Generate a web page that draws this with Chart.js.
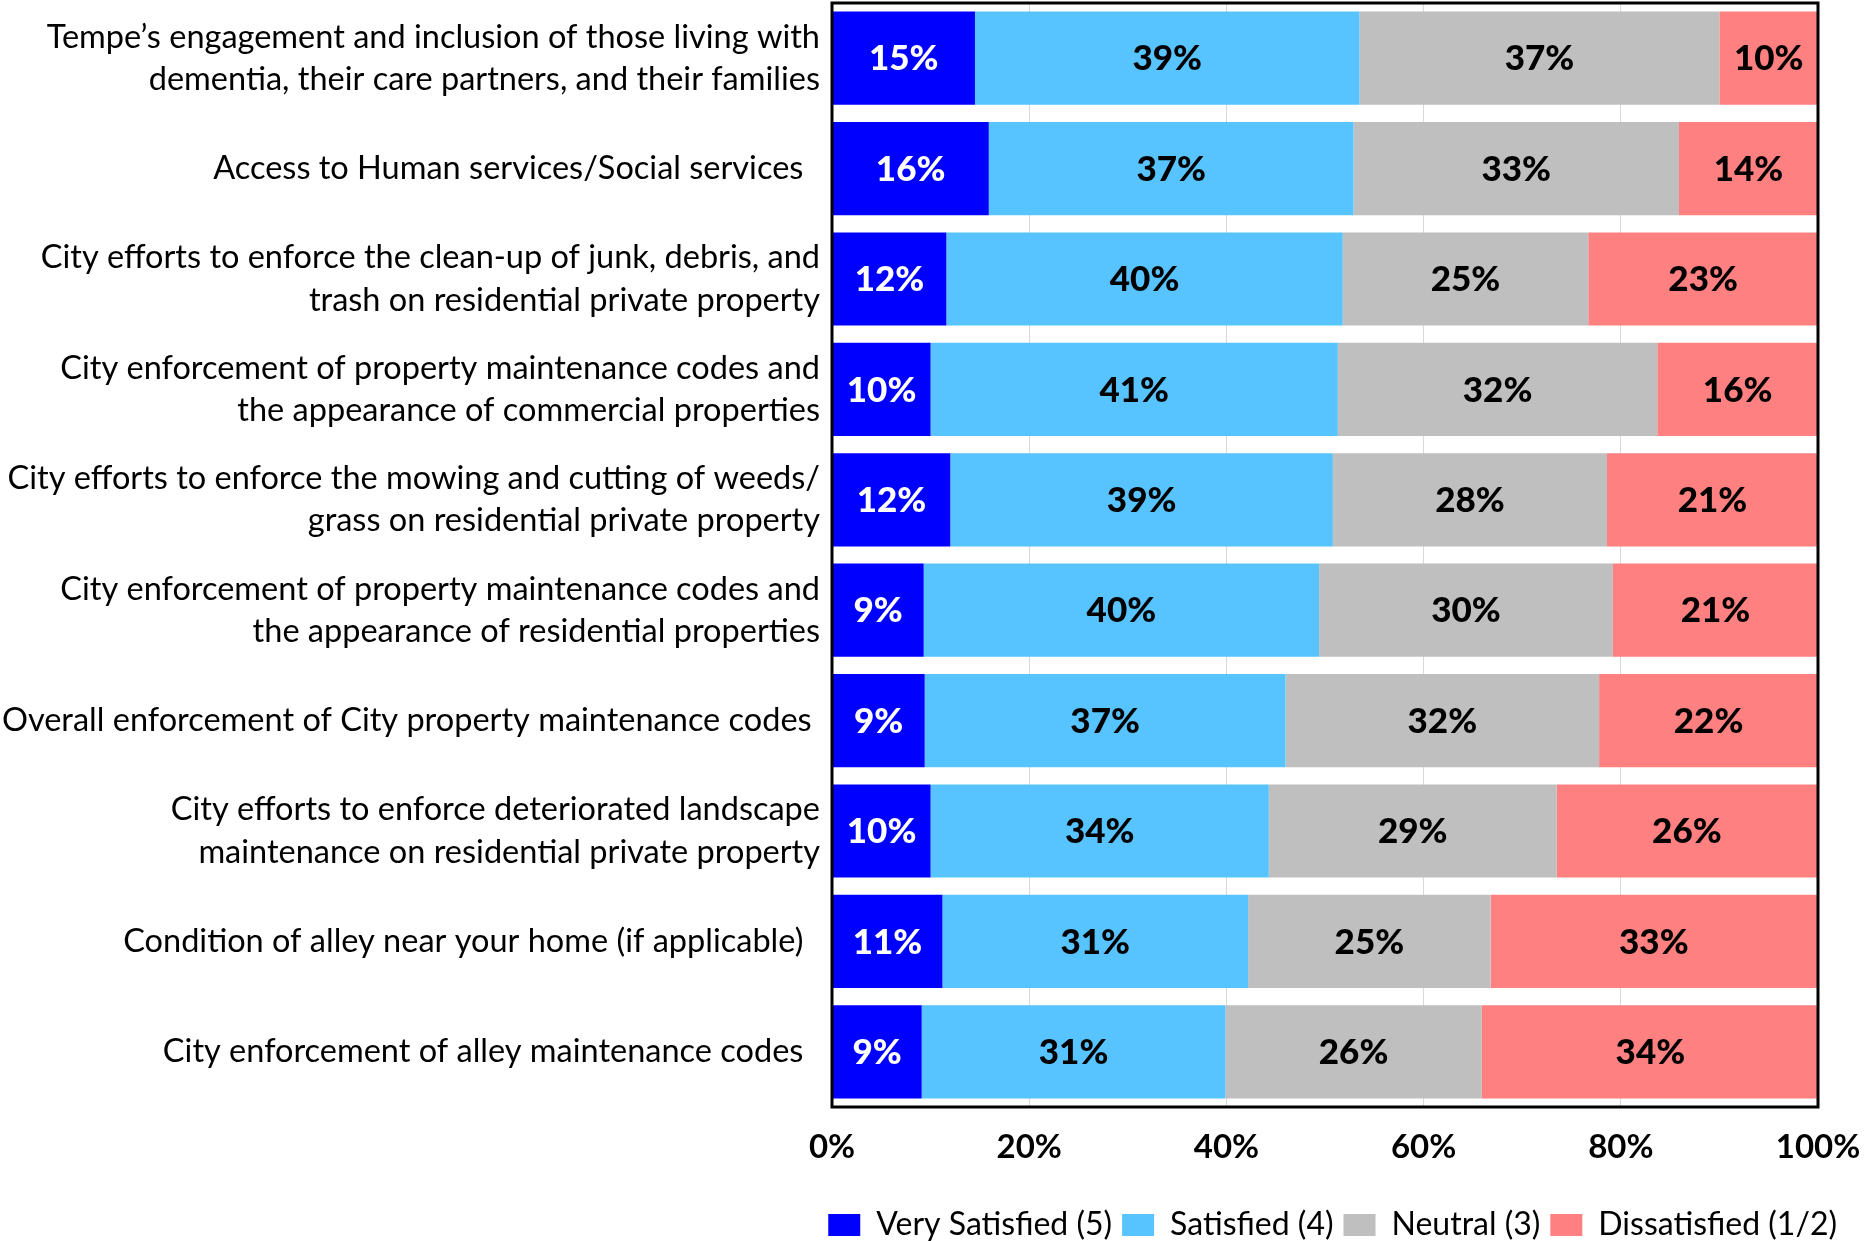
<!DOCTYPE html>
<html>
<head>
<meta charset="utf-8">
<script src="https://cdn.jsdelivr.net/npm/chart.js@4.4.0/dist/chart.umd.min.js"></script>
<style>
  html, body { margin: 0; padding: 0; background: #fff; }
  #wrap { width: 1867px; height: 1241px; }
</style>
</head>
<body>
<div id="wrap"><canvas id="chart"></canvas></div>
<script>
const FONT = "Lato, 'Liberation Sans', sans-serif";

const categories = [
    ['Tempe\u2019s engagement and inclusion of those living with', 'dementia, their care partners, and their families'],
    'Access to Human services/Social services  ',
    ['City efforts to enforce the clean-up of junk, debris, and', 'trash on residential private property'],
    ['City enforcement of property maintenance codes and', 'the appearance of commercial properties'],
    ['City efforts to enforce the mowing and cutting of weeds/', 'grass on residential private property'],
    ['City enforcement of property maintenance codes and', 'the appearance of residential properties'],
    'Overall enforcement of City property maintenance codes ',
    ['City efforts to enforce deteriorated landscape', 'maintenance on residential private property'],
    'Condition of alley near your home (if applicable)  ',
    'City enforcement of alley maintenance codes  '
];

const verySatisfied = [14.5, 15.9, 11.6, 10.0, 12.0, 9.3, 9.4, 10.0, 11.2, 9.1];
const satisfied     = [39.0, 37.0, 40.2, 41.3, 38.8, 40.1, 36.6, 34.3, 31.0, 30.8];
const neutral       = [36.5, 33.0, 24.9, 32.4, 27.8, 29.8, 31.8, 29.2, 24.6, 26.0];
const dissatisfied  = [10.0, 14.1, 23.3, 16.3, 21.4, 20.8, 22.2, 26.4, 33.1, 34.2];

const xTicks = [0, 20, 40, 60, 80, 100];

// draws the percent labels inside each bar segment
const barLabels = {
    id: 'barLabels',
    afterDatasetsDraw(chart) {
        const ctx = chart.ctx;
        ctx.save();
        ctx.font = '900 35px ' + FONT;
        ctx.textAlign = 'center';
        ctx.textBaseline = 'middle';
        chart.data.datasets.forEach((ds, i) => {
            const meta = chart.getDatasetMeta(i);
            meta.data.forEach((bar, j) => {
                ctx.fillStyle = i === 0 ? '#ffffff' : '#000000';
                ctx.fillText(Math.round(ds.data[j]) + '%', (bar.x + bar.base) / 2, bar.y + 1);
            });
        });
        ctx.restore();
    }
};

// black frame round the plot area
const plotFrame = {
    id: 'plotFrame',
    afterDatasetsDraw(chart) {
        const a = chart.chartArea;
        const ctx = chart.ctx;
        ctx.save();
        ctx.strokeStyle = '#000';
        ctx.lineWidth = 3;
        ctx.strokeRect(a.left, a.top, a.right - a.left, a.bottom - a.top);
        ctx.restore();
    }
};

const ctx = document.getElementById('chart').getContext('2d');

const chart = new Chart(ctx, {
    type: 'bar',
    data: {
        labels: categories,
        datasets: [
            { label: 'Very Satisfied (5)', data: verySatisfied, backgroundColor: '#0000ff' },
            { label: 'Satisfied (4)', data: satisfied, backgroundColor: '#57c4ff' },
            { label: 'Neutral (3)', data: neutral, backgroundColor: '#bfbfbf' },
            { label: 'Dissatisfied (1/2)', data: dissatisfied, backgroundColor: '#ff8080' }
        ]
    },
    options: {
        indexAxis: 'y',
        responsive: true,
        maintainAspectRatio: false,
        animation: false,
        categoryPercentage: 1,
        barPercentage: 0.844,
        layout: { padding: { top: 3, right: 20, left: 0, bottom: -10 } },
        plugins: {
            tooltip: { enabled: false },
            legend: {
                position: 'bottom',
                align: 'end',
                labels: {
                    font: { family: FONT, size: 32 },
                    color: '#000',
                    boxWidth: 32,
                    boxHeight: 22,
                    padding: 10
                }
            }
        },
        scales: {
            x: {
                stacked: true,
                min: 0,
                max: 100,
                afterBuildTicks(scale) {
                    scale.ticks = xTicks.map(v => ({ value: v }));
                },
                afterFit(scale) {
                    scale.height = 92;
                    scale.paddingLeft = 0;
                    scale.paddingRight = 0;
                },
                grid: { color: '#d9d9d9', lineWidth: 1, drawTicks: false },
                border: { display: false },
                ticks: {
                    padding: 21,
                    color: '#000',
                    font: { family: FONT, size: 33, weight: 'bold' },
                    callback: v => v + '%'
                }
            },
            y: {
                stacked: true,
                afterFit(scale) {
                    scale.width = 832;
                    scale.paddingTop = 0;
                    scale.paddingBottom = 0;
                },
                grid: { display: false, drawTicks: false },
                border: { display: false },
                ticks: {
                    padding: 12,
                    color: '#000',
                    font: { family: FONT, size: 32.5, lineHeight: 1.3 }
                }
            },
            y2: {
                type: 'linear',
                position: 'right',
                display: true,
                afterFit(scale) {
                    scale.width = 29;
                    scale.paddingTop = 0;
                    scale.paddingBottom = 0;
                },
                grid: { display: false, drawTicks: false },
                border: { display: false },
                ticks: { display: false }
            }
        }
    },
    plugins: [barLabels, plotFrame]
});
</script>
</body>
</html>
